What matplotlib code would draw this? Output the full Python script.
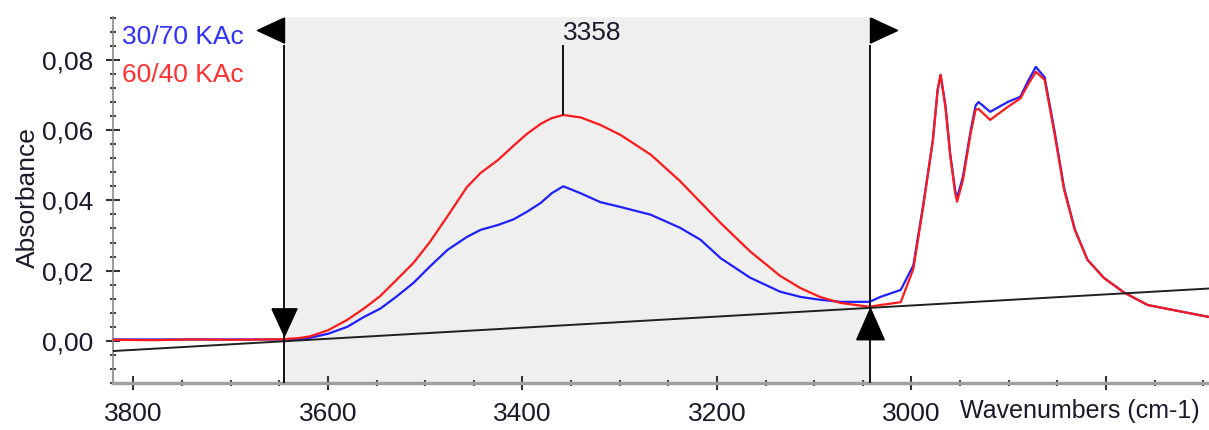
import matplotlib.pyplot as plt
import numpy as np
from matplotlib.ticker import FuncFormatter, MultipleLocator

# Espectros FTIR (absorbância) das duas formulações
wavenumbers = [3821, 3780, 3740, 3700, 3660, 3645, 3630, 3618, 3600, 3580, 3563, 3546, 3530,
               3512, 3495, 3477, 3457, 3443, 3425, 3409, 3395, 3381, 3370, 3358, 3340, 3320,
               3299, 3268, 3238, 3217, 3196, 3166, 3135, 3114, 3094, 3073, 3043, 3032, 3011,
               2998, 2988, 2978, 2973, 2970, 2965, 2960, 2955, 2953, 2947, 2939, 2934, 2931,
               2919, 2901, 2888, 2880, 2872, 2863, 2853, 2843, 2832, 2819, 2802, 2781, 2757,
               2722, 2694]
abs_30_70 = [0.0004, 0.0004, 0.0004, 0.0004, 0.0004, 0.0004, 0.0005, 0.0009, 0.0020, 0.0040,
             0.0068, 0.0092, 0.0125, 0.0165, 0.0212, 0.0259, 0.0296, 0.0316, 0.0330, 0.0346,
             0.0368, 0.0393, 0.0420, 0.0440, 0.0420, 0.0395, 0.0381, 0.0359, 0.0322, 0.0288,
             0.0235, 0.0180, 0.0140, 0.0125, 0.0117, 0.0111, 0.0111, 0.0125, 0.0145, 0.0215,
             0.0385, 0.0570, 0.0715, 0.0757, 0.0670, 0.0530, 0.0428, 0.0407, 0.0468, 0.0600,
             0.0670, 0.0680, 0.0652, 0.0680, 0.0695, 0.0740, 0.0780, 0.0750, 0.0600, 0.0435,
             0.0318, 0.0231, 0.0179, 0.0137, 0.0102, 0.0083, 0.0068]
abs_60_40 = [0.0003, 0.0002, 0.0004, 0.0003, 0.0004, 0.0005, 0.0008, 0.0013, 0.0030, 0.0060,
             0.0092, 0.0128, 0.0172, 0.0222, 0.0282, 0.0355, 0.0438, 0.0478, 0.0515, 0.0556,
             0.0590, 0.0618, 0.0634, 0.0643, 0.0636, 0.0615, 0.0586, 0.0530, 0.0455, 0.0395,
             0.0335, 0.0255, 0.0185, 0.0150, 0.0125, 0.0108, 0.0097, 0.0102, 0.0110, 0.0205,
             0.0380, 0.0570, 0.0715, 0.0757, 0.0666, 0.0524, 0.0421, 0.0396, 0.0458, 0.0592,
             0.0658, 0.0660, 0.0629, 0.0666, 0.0690, 0.0730, 0.0766, 0.0743, 0.0592, 0.0430,
             0.0316, 0.0231, 0.0179, 0.0137, 0.0102, 0.0083, 0.0068]

# Linha de base e região de integração
baseline_wn = [3821, 2694]
baseline_abs = [-0.0029, 0.0149]
region_wn = [3645, 3043]
peak_wn = 3358

label_30_70 = '30/70 KAc'
label_60_40 = '60/40 KAc'

FONTE = ['Liberation Sans Narrow', 'Liberation Sans', 'DejaVu Sans']
plt.rcParams['font.family'] = FONTE

fig = plt.figure(figsize=(12.09, 4.30), dpi=100)
ax = fig.add_axes([113 / 1209, 47 / 430, 1 - 113 / 1209, 366 / 430])
ax.set_xlim(3821, 2694)
ax.set_ylim(-0.012, 0.0922)
ymin, ymax = ax.get_ylim()

# Região selecionada em cinza
ax.axvspan(region_wn[0], region_wn[1], color='#efefef', zorder=0, lw=0)

# Espectros
ax.plot(wavenumbers, abs_30_70, color='#1f1fff', lw=1.6, zorder=3)
ax.plot(wavenumbers, abs_60_40, color='#ff1a1a', lw=1.6, zorder=4)

# Linha de base
ax.plot(baseline_wn, baseline_abs, color='#202020', lw=1.4, zorder=5)

# Cursores verticais
topo_cursor = 0.0843
ax.vlines(region_wn, ymin, topo_cursor, color='black', lw=1.3, zorder=6)

# Triângulos dos cursores
tri_esq = [(0, 0.5), (0, -0.5), (-1.08, 0.0), (0, 0.5)]
tri_dir = [(0, 0.5), (0, -0.5), (1.08, 0.0), (0, 0.5)]
ax.plot(region_wn[0], 0.0884, marker=tri_esq, ms=39, color='black', clip_on=False, zorder=7)
ax.plot(region_wn[1], 0.0884, marker=tri_dir, ms=39, color='black', clip_on=False, zorder=7)

base_cursor = np.interp(region_wn[::-1], baseline_wn[::-1], baseline_abs[::-1])[::-1]
tri_baixo = [(-0.46, 1.2), (0.46, 1.2), (0, 0.2), (-0.46, 1.2)]
tri_cima = [(-0.44, -1), (0.44, -1), (0, 0), (-0.44, -1)]
ax.plot(region_wn[0], base_cursor[0], marker=tri_baixo, ms=47, color='black', zorder=7)
ax.plot(region_wn[1], base_cursor[1], marker=tri_cima, ms=45, color='black', zorder=7)

# Marcação do pico
idx_pico = wavenumbers.index(peak_wn)
ax.vlines(peak_wn, abs_60_40[idx_pico], topo_cursor, color='black', lw=1.3, zorder=6)
ax.text(peak_wn, topo_cursor, str(peak_wn), ha='left', va='bottom', fontsize=19,
        color='#1a1a2a', zorder=8)

# Legenda em texto colorido
ax.annotate(label_30_70, xy=(0, 1), xycoords='axes fraction', xytext=(9, -20),
            textcoords='offset pixels', ha='left', va='center', fontsize=19, color='#3030ff')
ax.annotate(label_60_40, xy=(0, 1), xycoords='axes fraction', xytext=(9, -58),
            textcoords='offset pixels', ha='left', va='center', fontsize=19, color='#ff3030')

# Eixos
for lado in ['top', 'right']:
    ax.spines[lado].set_visible(False)
ax.spines['left'].set_color('#8a8a8a')
ax.spines['left'].set_linewidth(1.2)
ax.spines['bottom'].set_color('#a0a0a0')
ax.spines['bottom'].set_linewidth(2.5)

ax.set_xticks([3800, 3600, 3400, 3200, 3000, 2800])
ax.set_xticklabels(['3800', '3600', '3400', '3200', '3000', ''])
ax.xaxis.set_minor_locator(MultipleLocator(50))
ax.yaxis.set_major_locator(MultipleLocator(0.02))
ax.yaxis.set_minor_locator(MultipleLocator(0.004))
ax.yaxis.set_major_formatter(FuncFormatter(lambda v, p: f'{v:.2f}'.replace('.', ',')))
ax.set_ylim(ymin, ymax)

ax.tick_params(which='major', direction='inout', length=10, width=1.5, color='#333333',
               labelsize=19, labelcolor='#1a1a2a', pad=9)
ax.tick_params(which='minor', direction='inout', length=4, width=1.5, color='#444444')

ax.annotate('Wavenumbers (cm-1)', xy=(1, 0), xycoords='axes fraction', xytext=(-9, -28),
            textcoords='offset pixels', ha='right', va='center', fontsize=18, color='#1a1a2a')
fig.text(28 / 1209, 1 - 198 / 430, 'Absorbance', rotation=90, ha='center', va='center',
         fontsize=19, color='#1a1a2a', family=['Liberation Sans', 'DejaVu Sans'])

fig.savefig('out.png', dpi=100)
